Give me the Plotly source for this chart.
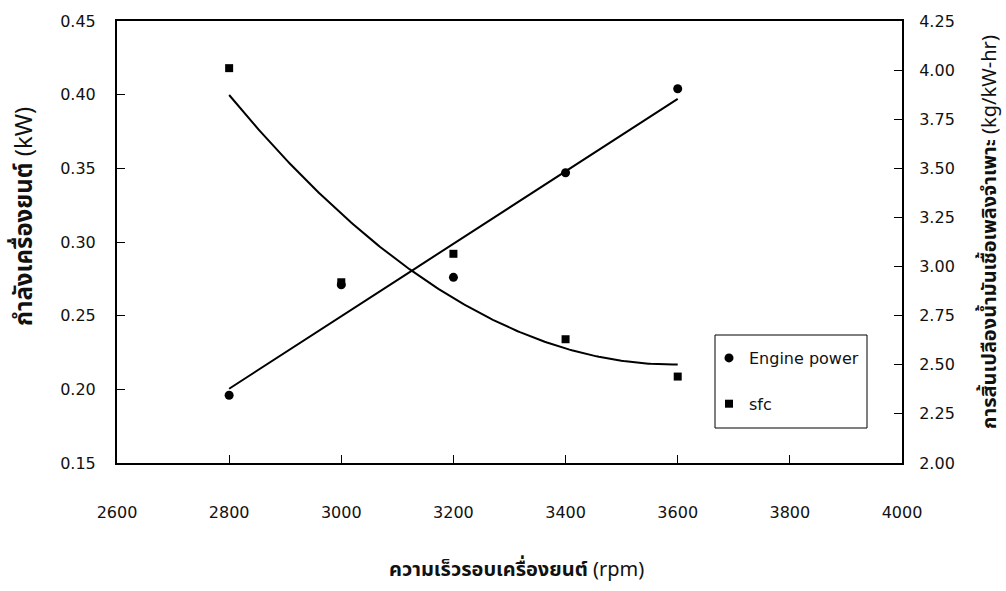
import numpy as np
import plotly.graph_objects as go

# Measured engine data
rpm = [2800, 3000, 3200, 3400, 3600]
engine_power = [0.196, 0.271, 0.276, 0.347, 0.404]   # kW
sfc = [4.01, 2.92, 3.065, 2.63, 2.44]                # kg/kW-hr

x_ticks = [2600, 2800, 3000, 3200, 3400, 3600, 3800, 4000]
left_ticks = [0.15, 0.20, 0.25, 0.30, 0.35, 0.40, 0.45]
right_ticks = [2.00, 2.25, 2.50, 2.75, 3.00, 3.25, 3.50, 3.75, 4.00, 4.25]

# Trend lines: linear for power, 2nd-order polynomial for sfc
xf = np.linspace(min(rpm), max(rpm), 200)
p_fit = np.polyval(np.polyfit(rpm, engine_power, 1), xf)
s_fit = np.polyval(np.polyfit(rpm, sfc, 2), xf)

TXT = "#111111"
NUM_FONT = "DejaVu Sans"
THAI_FONT = "Noto Sans Thai, Loma, Garuda, Tlwg Typo, Noto Sans, DejaVu Sans, sans-serif"

# plot-area pixel frame (used to place paper-referenced items)
L, R, T, B = 117, 902, 21, 463
W, H = R - L, B - T


def px(x):
    return (x - L) / W


def py(y):
    return (B - y) / H


fig = go.Figure()
fig.add_trace(go.Scatter(x=xf, y=p_fit, mode="lines", line=dict(color="black", width=2),
                         showlegend=False, hoverinfo="skip"))
fig.add_trace(go.Scatter(x=xf, y=s_fit, mode="lines", line=dict(color="black", width=2),
                         showlegend=False, hoverinfo="skip", yaxis="y2"))
fig.add_trace(go.Scatter(x=rpm, y=engine_power, mode="markers", name="Engine power",
                         legendgroup="a",
                         marker=dict(symbol="circle", size=9, color="black")))
fig.add_trace(go.Scatter(x=rpm, y=sfc, mode="markers", name="sfc", yaxis="y2",
                         legendgroup="b",
                         marker=dict(symbol="square", size=8, color="black")))

axis_common = dict(showgrid=False, zeroline=False, showline=True, linecolor="black",
                   linewidth=2, ticks="inside", ticklen=8, tickcolor="black", tickwidth=1,
                   tickfont=dict(family=NUM_FONT, size=16, color=TXT))

fig.update_layout(
    width=1006, height=591,
    margin=dict(l=L, r=1006 - R, t=T, b=591 - B),
    paper_bgcolor="white", plot_bgcolor="white",
    font=dict(family=NUM_FONT, color=TXT),
    xaxis=dict(range=[2600, 4000], tickvals=x_ticks, ticktext=[str(v) for v in x_ticks],
               mirror=True, ticklabelstandoff=34, **axis_common),
    yaxis=dict(range=[0.15, 0.45], tickvals=left_ticks,
               ticktext=[f"{v:.2f}" for v in left_ticks], ticklabelstandoff=16,
               **axis_common),
    yaxis2=dict(range=[2.00, 4.25], tickvals=right_ticks,
                ticktext=[f"{v:.2f}" for v in right_ticks], overlaying="y", side="right",
                ticklabelstandoff=12, **axis_common),
    legend=dict(x=px(709), y=py(341), xanchor="left", yanchor="top",
                borderwidth=0, bgcolor="rgba(0,0,0,0)",
                traceorder="grouped", tracegroupgap=22,
                font=dict(family=NUM_FONT, size=16, color=TXT)),
    showlegend=True,
    shapes=[dict(type="rect", xref="paper", yref="paper",
                 x0=px(715), x1=px(867), y0=py(428), y1=py(335),
                 line=dict(color="black", width=1), fillcolor="rgba(0,0,0,0)")],
)

fig.add_annotation(text="<b>ความเร็วรอบเครื่องยนต์</b> (rpm)", xref="paper", yref="paper",
                   x=px(516), y=py(570), showarrow=False,
                   xanchor="center", yanchor="middle",
                   font=dict(family=THAI_FONT, size=20, color=TXT))
fig.add_annotation(text="<b>กำลังเครื่องยนต์</b> (kW)", xref="paper", yref="paper",
                   x=px(25), y=py(217), showarrow=False,
                   textangle=-90, xanchor="center", yanchor="middle",
                   font=dict(family=THAI_FONT, size=24, color=TXT))
fig.add_annotation(text="<b>การสิ้นเปลืองน้ำมันเชื้อเพลิงจำเพาะ</b> (kg/kW-hr)",
                   xref="paper", yref="paper",
                   x=px(990), y=py(232), showarrow=False,
                   textangle=-90, xanchor="center", yanchor="middle",
                   font=dict(family=THAI_FONT, size=20, color=TXT))

fig.write_html("out.html")
